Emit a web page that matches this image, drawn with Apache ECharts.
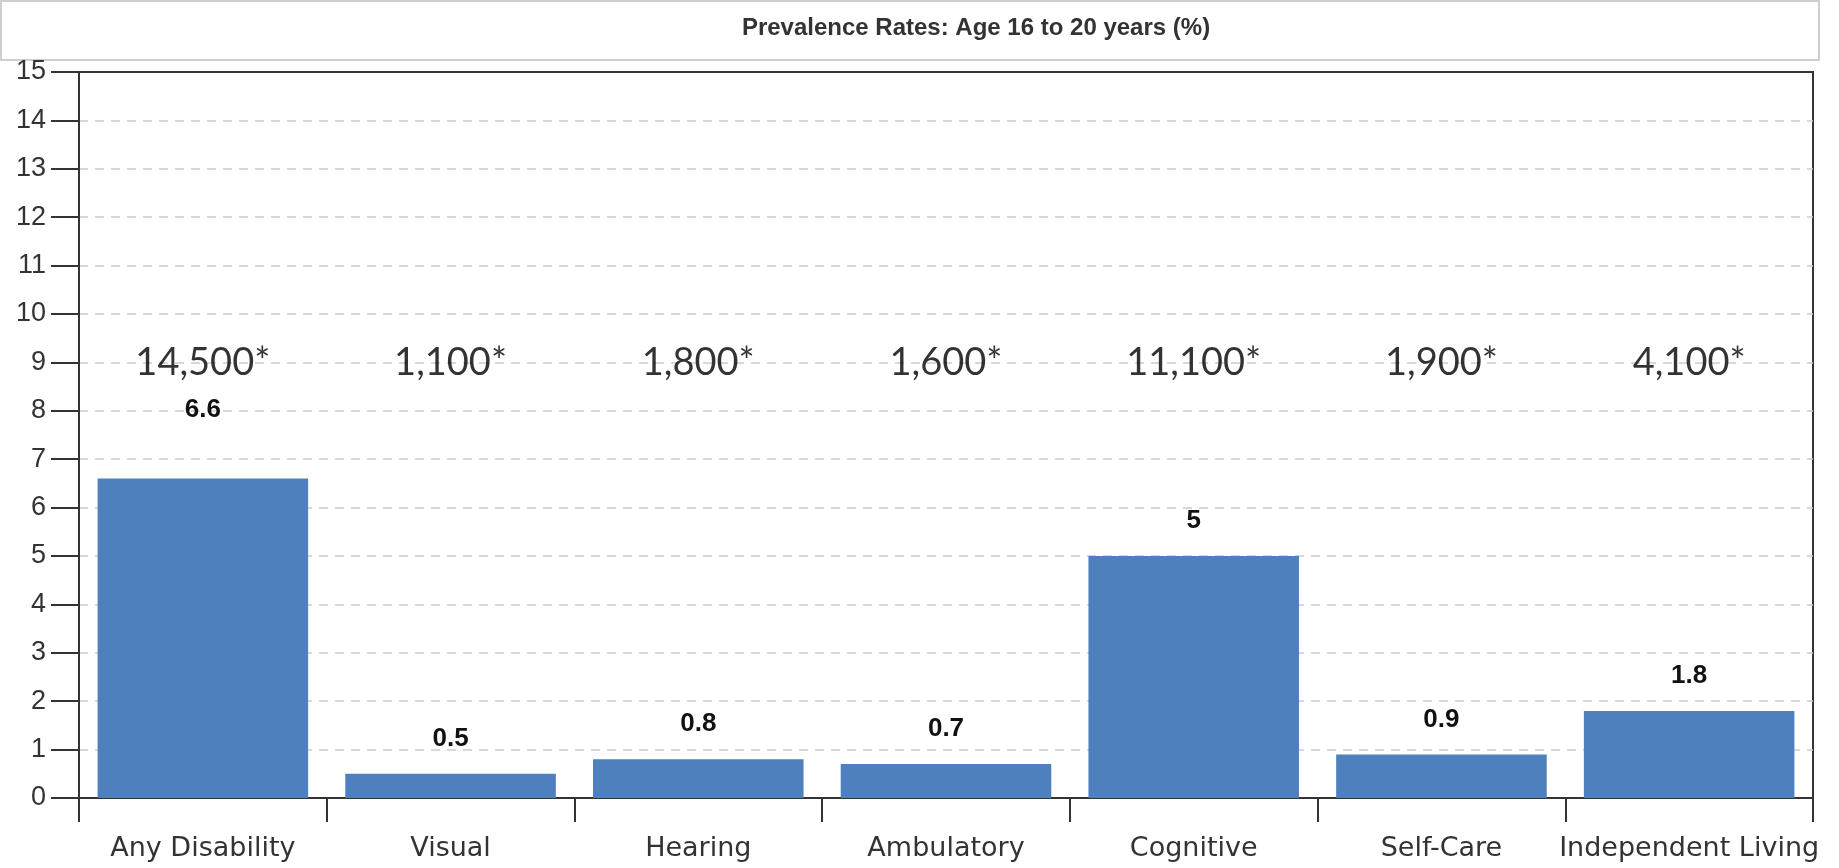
<!DOCTYPE html>
<html><head><meta charset="utf-8">
<script src="https://cdn.jsdelivr.net/npm/echarts@6/dist/echarts.min.js"></script>
</head>
<body style="margin:0;padding:0;background:#fff;">
<div id="chart" style="width:1839px;height:868px;"></div>
<script>
// chart data
const categories = ['Any Disability', 'Visual', 'Hearing', 'Ambulatory', 'Cognitive', 'Self-Care', 'Independent Living'];
const rates = [6.6, 0.5, 0.8, 0.7, 5, 0.9, 1.8];
const counts = ['14,500*', '1,100*', '1,800*', '1,600*', '11,100*', '1,900*', '4,100*'];
const countLevel = 9;
const yTicks = [0, 15, 1]; // min, max, interval

const chart = echarts.init(document.getElementById('chart'));

chart.setOption({
  animation: false,
  title: {
    text: 'Prevalence Rates: Age 16 to 20 years (%)',
    left: 971, top: 11, textAlign: 'center',
    textStyle: { fontFamily: 'Liberation Sans', fontSize: 24, fontWeight: 'bold', color: '#333' }
  },
  graphic: [{
    type: 'rect', left: 0, top: 0, z: -1,
    shape: { width: 1818, height: 59 },
    style: { fill: '#fff', stroke: '#cfcfcf', lineWidth: 2 }
  }],
  grid: { left: 79, right: 26, top: 72, bottom: 70, show: true, borderColor: '#333', borderWidth: 2 },
  xAxis: {
    type: 'category',
    data: categories,
    axisLine: { lineStyle: { color: '#333', width: 2 } },
    axisTick: { show: true, interval: 0, length: 24, lineStyle: { color: '#333', width: 2 } },
    axisLabel: { interval: 0, fontFamily: 'DejaVu Sans', fontSize: 27, color: '#333', margin: 37 }
  },
  yAxis: {
    type: 'value',
    min: yTicks[0], max: yTicks[1], interval: yTicks[2],
    axisLine: { show: true, lineStyle: { color: '#333', width: 2 } },
    axisTick: { show: true, length: 28, lineStyle: { color: '#333', width: 2 } },
    axisLabel: { fontFamily: 'Liberation Sans', fontSize: 27, color: '#333', margin: 33 },
    splitLine: { showMinLine: false, showMaxLine: false, lineStyle: { color: '#ccc', type: [9, 7], width: 1.5 } }
  },
  series: [{
    type: 'bar',
    data: rates.map((v, i) => ({
      value: v,
      label: { distance: i === 0 ? 56 : 22 }
    })),
    barCategoryGap: '15%',
    itemStyle: { color: '#4e80bd' },
    label: {
      show: true, position: 'top',
      fontFamily: 'Liberation Sans', fontSize: 26, fontWeight: 'bold', color: '#111'
    }
  }, {
    type: 'scatter',
    data: counts.map(() => countLevel),
    symbol: 'circle',
    symbolSize: 1,
    itemStyle: { color: 'rgba(0,0,0,0)' },
    silent: true,
    labelLayout: { hideOverlap: false },
    label: {
      show: true, position: 'inside',
      formatter: p => counts[p.dataIndex],
      fontFamily: 'Lato', fontSize: 38, color: '#000'
    }
  }]
});
</script>
</body></html>
